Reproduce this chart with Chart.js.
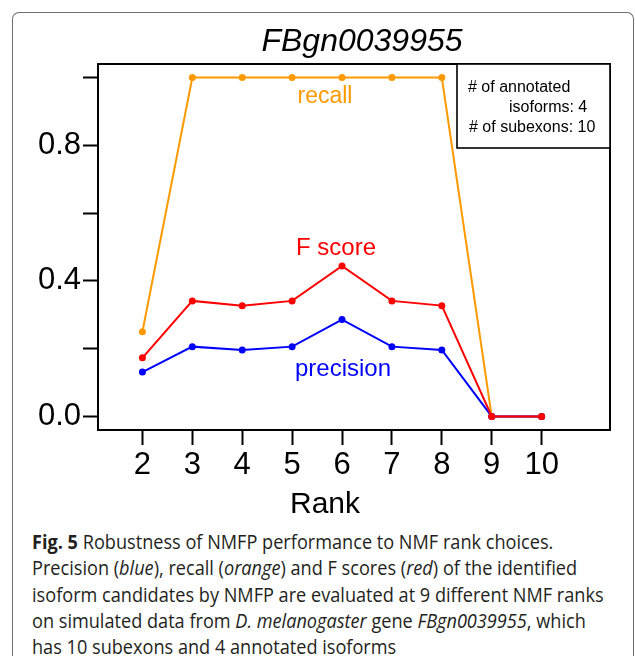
<!DOCTYPE html>
<html>
<head>
<meta charset="utf-8">
<script src="https://cdn.jsdelivr.net/npm/chart.js@4.4.1/dist/chart.umd.min.js"></script>
<style>
  html, body { margin: 0; padding: 0; background: #fff; }
  body { width: 635px; height: 666px; position: relative; overflow: hidden; }
  #frame {
    position: absolute; left: 12px; top: 12px; width: 620px; height: 643px;
    border: 1px solid #6e6e6e; border-bottom: none; border-radius: 7px 7px 0 0;
  }
  #plot { position: absolute; left: 0; top: 0; }
  #caption {
    position: absolute; left: 32px; top: 529px;
    font-family: "Open Sans", "Noto Sans", sans-serif; font-size: 19.5px;
    line-height: 26.3px; color: #231f20; white-space: nowrap;
    transform: scaleX(0.93); transform-origin: left top;
  }
  #caption b { font-weight: 700; }
</style>
</head>
<body>
<div id="frame"></div>
<canvas id="plot" width="635" height="520"></canvas>
<div id="caption">
  <div><b>Fig. 5</b> Robustness of NMFP performance to NMF rank choices.</div>
  <div>Precision (<i>blue</i>), recall (<i>orange</i>) and F scores (<i>red</i>) of the identified</div>
  <div>isoform candidates by NMFP are evaluated at 9 different NMF ranks</div>
  <div>on simulated data from <i>D. melanogaster</i> gene <i>FBgn0039955</i>, which</div>
  <div>has 10 subexons and 4 annotated isoforms</div>
</div>
<script>
// NMF ranks tried and the scores obtained at each one
const ranks = [2, 3, 4, 5, 6, 7, 8, 9, 10];
const precision = [0.131, 0.206, 0.196, 0.206, 0.286, 0.206, 0.196, 0, 0];
const recall = [0.25, 1, 1, 1, 1, 1, 1, 0, 0];
const fScore = [0.173, 0.341, 0.327, 0.341, 0.444, 0.341, 0.327, 0, 0];

const yTicks = [0, 0.2, 0.4, 0.6, 0.8, 1.0];
const yTickLabels = ["0.0", "", "0.4", "", "0.8", ""];

const geneName = "FBgn0039955";
const infoLines = ["# of annotated", "isoforms: 4", "# of subexons: 10"];

const FONT = '"Liberation Sans", Arial, Helvetica, sans-serif';
const ORANGE = "#ff9900";
const RED = "#ff0000";
const BLUE = "#0000ff";

function series(values) {
    return ranks.map((rank, i) => ({ x: rank, y: values[i] }));
}

function lineDataset(label, values, color) {
    return {
        label,
        data: series(values),
        borderColor: color,
        backgroundColor: color,
        borderWidth: 2,
        pointRadius: 3.5,
        pointBorderWidth: 0,
        pointBackgroundColor: color,
        tension: 0,
    };
}

// Box around the plot region, the info box and the free text labels
const annotations = {
    id: "annotations",
    afterDraw(chart) {
        const { ctx, chartArea: a } = chart;
        ctx.save();
        ctx.strokeStyle = "#000";
        ctx.lineWidth = 2;
        ctx.strokeRect(a.left, a.top, a.right - a.left, a.bottom - a.top);

        // info box in the top right corner
        ctx.fillStyle = "#fff";
        ctx.fillRect(457, a.top, a.right - 457, 84);
        ctx.lineWidth = 1.6;
        ctx.strokeRect(457, a.top, a.right - 457, 84);

        ctx.fillStyle = "#000";
        ctx.textBaseline = "middle";
        ctx.font = "16px " + FONT;
        ctx.textAlign = "left";
        ctx.fillText(infoLines[0], 468, 88);
        ctx.fillText(infoLines[1], 509, 108);
        ctx.fillText(infoLines[2], 469, 128);

        ctx.textAlign = "center";
        ctx.font = "italic 32px " + FONT;
        ctx.fillText(geneName, 362, 42);

        ctx.font = "30px " + FONT;
        ctx.fillText("Rank", 325, 505);

        ctx.font = "23px " + FONT;
        ctx.fillStyle = ORANGE;
        ctx.fillText("recall", 325, 97);
        ctx.font = "24px " + FONT;
        ctx.fillStyle = RED;
        ctx.fillText("F score", 336, 248);
        ctx.fillStyle = BLUE;
        ctx.fillText("precision", 343, 369);
        ctx.restore();
    },
};

new Chart(document.getElementById("plot"), {
    type: "line",
    data: {
        datasets: [
            lineDataset("F score", fScore, RED),
            lineDataset("precision", precision, BLUE),
            lineDataset("recall", recall, ORANGE),
        ],
    },
    options: {
        responsive: false,
        animation: false,
        devicePixelRatio: 1,
        layout: { padding: { left: 0, top: 64, right: 25, bottom: 0 } },
        plugins: {
            legend: { display: false },
            tooltip: { enabled: false },
            title: { display: false },
        },
        scales: {
            x: {
                type: "linear",
                min: 1.11,
                max: 11.37,
                afterBuildTicks: (scale) => {
                    scale.ticks = ranks.map((value) => ({ value }));
                },
                afterFit: (scale) => { scale.height = 90; },
                ticks: {
                    callback: (value) => String(value),
                    color: "#000",
                    font: { family: FONT, size: 31 },
                    padding: 2,
                    maxRotation: 0,
                    autoSkip: false,
                },
                grid: {
                    drawOnChartArea: false,
                    tickLength: 15,
                    tickWidth: 2,
                    tickColor: "#000",
                },
                border: { display: true, color: "#000", width: 2 },
            },
            y: {
                type: "linear",
                min: -0.04,
                max: 1.04,
                afterBuildTicks: (scale) => {
                    scale.ticks = yTicks.map((value) => ({ value }));
                },
                afterFit: (scale) => { scale.width = 98; },
                ticks: {
                    callback: (value, index) => yTickLabels[index],
                    color: "#000",
                    font: { family: FONT, size: 31 },
                    padding: 2,
                    autoSkip: false,
                },
                grid: {
                    drawOnChartArea: false,
                    tickLength: 15,
                    tickWidth: 2,
                    tickColor: "#000",
                },
                border: { display: true, color: "#000", width: 2 },
            },
        },
    },
    plugins: [annotations],
});
</script>
</body>
</html>
